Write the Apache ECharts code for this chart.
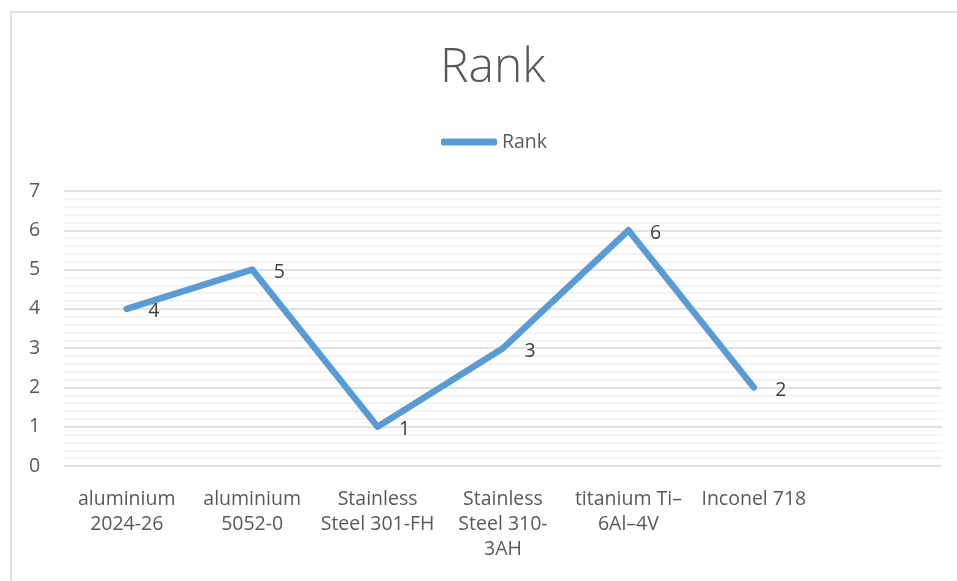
<!DOCTYPE html>
<html><head><meta charset="utf-8">
<script src="https://cdn.jsdelivr.net/npm/echarts@6/dist/echarts.min.js"></script>
<style>html,body{margin:0;padding:0;background:#fff}#c{width:957px;height:581px}</style>
</head><body><div id="c"></div>
<script>
const categories = ['aluminium 2024-26','aluminium 5052-0','Stainless Steel 301-FH','Stainless Steel 310-3AH','titanium Ti–6Al–4V','Inconel 718',''];
const tickLabels = ['aluminium\n2024-26','aluminium\n5052-0','Stainless\nSteel 301-FH','Stainless\nSteel 310-\n3AH','titanium Ti–\n6Al–4V','Inconel 718',''];
const rankValues = [4,5,1,3,6,2,null];
const yTicks = [0,1,2,3,4,5,6,7];

const FONT = '"Open Sans", Lato, sans-serif';
const chart = echarts.init(document.getElementById('c'));
chart.setOption({
  animation:false,
  backgroundColor:'#fff',
  graphic:[{type:'rect',shape:{x:11,y:12,width:980,height:600},style:{fill:'none',stroke:'#D9D9D9',lineWidth:1.5},silent:true}],
  title:{text:'Rank',left:435,top:39,textStyle:{fontFamily:FONT,fontSize:48,fontWeight:300,color:'#595959'}},
  legend:{top:127,left:436,itemWidth:56,itemHeight:7,itemGap:4,icon:'roundRect',
    textStyle:{fontFamily:FONT,fontSize:19.5,color:'#595959'},data:['Rank']},
  grid:{left:64,right:15,top:191,bottom:115,containLabel:false},
  xAxis:{type:'category',data:categories,boundaryGap:true,
    axisLine:{show:false},axisTick:{show:false},
    axisLabel:{interval:0,margin:21,lineHeight:25,fontFamily:FONT,fontSize:19.5,color:'#595959',
      formatter:(v,i)=>tickLabels[i]}},
  yAxis:{type:'value',min:0,max:7,interval:1,
    axisLine:{show:false},axisTick:{show:false},
    axisLabel:{margin:35,fontFamily:FONT,fontSize:19.5,color:'#595959',align:'left',
      formatter:v=>yTicks.includes(v)?String(v):''},
    splitLine:{lineStyle:{color:'#D9D9D9',width:1.5}},
    minorTick:{show:false,splitNumber:5},
    minorSplitLine:{show:true,lineStyle:{color:'#F0F0F0',width:1.5}}},
  series:[{name:'Rank',type:'line',data:rankValues,showSymbol:true,symbol:'circle',symbolSize:1,
    lineStyle:{color:'#5B9BD5',width:6.5,cap:'round',join:'round'},
    itemStyle:{color:'#5B9BD5'},
    label:{show:true,position:'right',distance:21,fontFamily:FONT,fontSize:19.5,color:'#404040',offset:[0,3]}}]
});
</script></body></html>
